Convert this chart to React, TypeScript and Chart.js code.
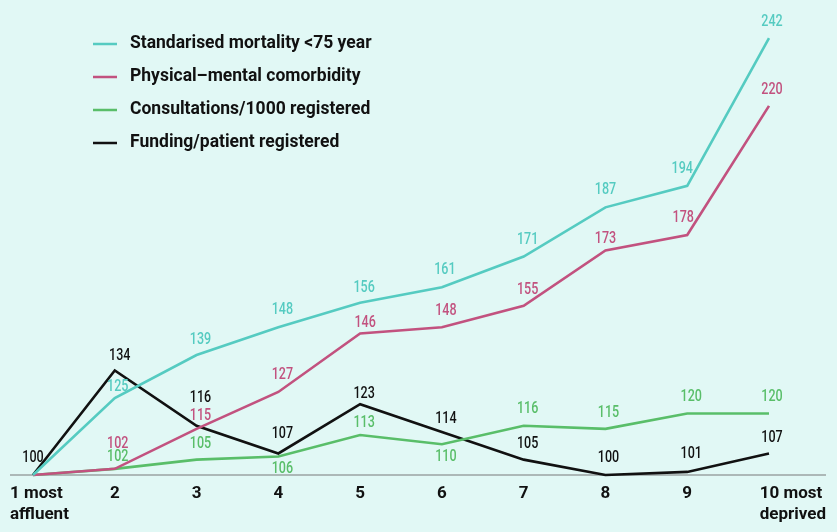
import React, { useEffect, useRef } from "react";
import { Chart, registerables } from "chart.js";

Chart.register(...registerables);

const categories = [1, 2, 3, 4, 5, 6, 7, 8, 9, 10];
const xTickLabels: string[][] = [
  ["1 most", "affluent"],
  ["2"],
  ["3"],
  ["4"],
  ["5"],
  ["6"],
  ["7"],
  ["8"],
  ["9"],
  ["10 most", "deprived"],
];
const seriesNames = [
  "Standarised mortality <75 year",
  "Physical\u2013mental comorbidity",
  "Consultations/1000 registered",
  "Funding/patient registered",
];
const mortality = [100, 125, 139, 148, 156, 161, 171, 187, 194, 242];
const comorbidity = [100, 102, 115, 127, 146, 148, 155, 173, 178, 220];
const consultations = [100, 102, 105, 106, 113, 110, 116, 115, 120, 120];
const funding = [100, 134, 116, 107, 123, 114, 105, 100, 101, 107];

// label placement (style only): vertical offsets in px from each point, null = no label
const mortalityLabelDy = [null, -11, -15, -17, -15, -17, -17, -17, -17, -16];
const comorbidityLabelDy = [null, -25, -13, -17, -11, -16, -16, -12, -17, -16];
const consultationsLabelDy = [null, -12, -16, 12, -12, 13, -17, -16, -17, -17];
const fundingLabelDy = [-17, -15, -28, -20, -10, -13, -16, -17, -18, -16];
const mortalityLabelDx = [0, 3, 4, 4, 4, 3, 4, 0, -5, 3];
const comorbidityLabelDx = [0, 3, 4, 4, 5, 4, 4, 0, -4, 3];
const consultationsLabelDx = [0, 3, 4, 4, 4, 4, 4, 3, 4, 3];
const fundingLabelDx = [0, 5, 4, 4, 4, 4, 4, 3, 4, 3];

const colors = ["#55cbc1", "#c2527f", "#59be69", "#111111"];
const valueSets = [mortality, comorbidity, consultations, funding];
const dySets = [mortalityLabelDy, comorbidityLabelDy, consultationsLabelDy, fundingLabelDy];
const dxSets = [mortalityLabelDx, comorbidityLabelDx, consultationsLabelDx, fundingLabelDx];

const LABEL_FONT = "500 16.5px Roboto, 'Noto Sans', sans-serif";
const TEXT_FONT = "bold 17.5px Roboto, 'Noto Sans', sans-serif";
const TICK_FONT = "bold 17px Roboto, 'Noto Sans', sans-serif";

const overlayPlugin = {
  id: "overlay",
  beforeDatasetsDraw(chart: any) {
    const { ctx, chartArea, scales } = chart;
    const y0 = scales.y.getPixelForValue(100);
    ctx.save();
    ctx.strokeStyle = "#9aa3a2";
    ctx.lineWidth = 1.5;
    ctx.beginPath();
    ctx.moveTo(chartArea.left, y0);
    ctx.lineTo(chartArea.right, y0);
    ctx.stroke();
    ctx.restore();
  },
  afterDatasetsDraw(chart: any) {
    const { ctx, chartArea, scales } = chart;
    ctx.save();
    // value labels (horizontally condensed)
    ctx.font = LABEL_FONT;
    ctx.textAlign = "center";
    ctx.textBaseline = "middle";
    chart.data.datasets.forEach((ds: any, di: number) => {
      const meta = chart.getDatasetMeta(di);
      ctx.fillStyle = colors[di];
      meta.data.forEach((pt: any, i: number) => {
        const dy = dySets[di][i];
        if (dy === null) return;
        ctx.save();
        ctx.translate(pt.x + dxSets[di][i], pt.y + dy);
        ctx.scale(0.76, 1);
        ctx.fillText(String(valueSets[di][i]), 0, 0);
        ctx.restore();
      });
    });
    // x tick labels
    ctx.font = TICK_FONT;
    ctx.fillStyle = "#111111";
    ctx.textBaseline = "middle";
    const base = scales.y.getPixelForValue(100);
    categories.forEach((c, i) => {
      const lines = xTickLabels[i];
      const x = scales.x.getPixelForValue(c);
      if (i === 0) {
        ctx.textAlign = "left";
        lines.forEach((l, k) => ctx.fillText(l, chartArea.left, base + 19 + k * 21));
      } else if (i === categories.length - 1) {
        const w = Math.max(...lines.map((l) => ctx.measureText(l).width));
        ctx.textAlign = "left";
        lines.forEach((l, k) => ctx.fillText(l, chartArea.right - w, base + 19 + k * 21));
      } else {
        ctx.textAlign = "center";
        lines.forEach((l, k) => ctx.fillText(l, x, base + 19 + k * 21));
      }
    });
    // legend
    ctx.font = TEXT_FONT;
    ctx.textAlign = "left";
    ctx.textBaseline = "middle";
    seriesNames.forEach((name, i) => {
      const y = 44 + i * 33;
      ctx.strokeStyle = colors[i];
      ctx.lineWidth = 2.5;
      ctx.beginPath();
      ctx.moveTo(93, y);
      ctx.lineTo(117, y);
      ctx.stroke();
      ctx.fillStyle = "#111111";
      ctx.fillText(name, 130, y);
    });
    ctx.restore();
  },
};

export default function App() {
  const canvasRef = useRef<HTMLCanvasElement | null>(null);

  useEffect(() => {
    document.body.style.margin = "0";
    const canvas = canvasRef.current;
    if (!canvas) return;
    const chart = new Chart(canvas, {
      type: "line",
      data: {
        datasets: valueSets.map((vals, di) => ({
          label: seriesNames[di],
          data: categories.map((c, i) => ({ x: c, y: vals[i] })),
          borderColor: colors[di],
          backgroundColor: colors[di],
          borderWidth: 2.6,
          pointRadius: 0,
          pointHoverRadius: 0,
          tension: 0,
          clip: false as any,
        })),
      },
      options: {
        animation: false,
        responsive: false,
        layout: { padding: { top: 0, left: 10, right: 11, bottom: 57 } },
        plugins: {
          legend: { display: false },
          tooltip: { enabled: false },
        },
        events: [],
        scales: {
          x: {
            type: "linear",
            display: false,
            min: 0.7188,
            max: 10.697,
          },
          y: {
            type: "linear",
            display: false,
            min: 100,
            max: 254.4,
          },
        },
      },
      plugins: [overlayPlugin],
    });
    return () => chart.destroy();
  }, []);

  return (
    <div style={{ width: 837, height: 532, background: "#e1f8f5" }}>
      <canvas ref={canvasRef} width={837} height={532} style={{ display: "block", width: 837, height: 532 }} />
    </div>
  );
}
